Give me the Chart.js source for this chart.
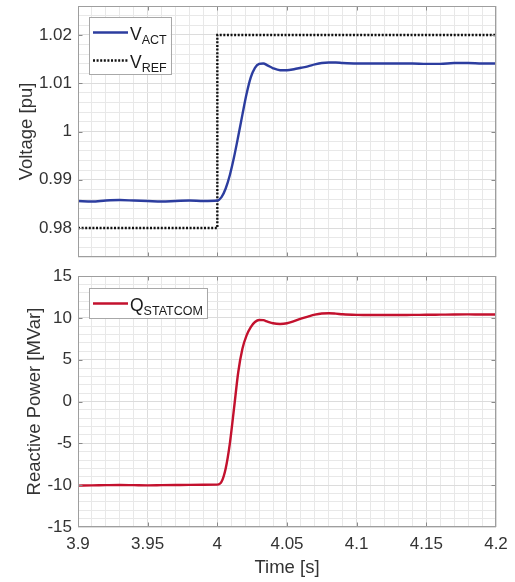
<!DOCTYPE html>
<html><head><meta charset="utf-8">
<script src="https://cdn.jsdelivr.net/npm/chart.js@4.4.1/dist/chart.umd.min.js"></script>
<style>
html,body{margin:0;padding:0;background:#fff;}
#c1{position:absolute;left:0;top:0;}
#c2{position:absolute;left:0;top:266px;}
</style></head><body>
<canvas id="c1" width="515" height="266"></canvas>
<canvas id="c2" width="515" height="316"></canvas>
<script>
// ---- data ----
const time = [3.90,3.91,3.92,3.93,3.94,3.95,3.96,3.97,3.98,3.99,
  4.000,
  4.003,4.006,4.009,4.012,4.015,4.018,4.021,4.024,4.027,4.030,4.033,4.036,
  4.040,4.045,4.050,4.055,4.060,4.065,4.070,4.075,4.080,4.085,4.090,
  4.10,4.11,4.12,4.13,4.14,4.15,4.16,4.17,4.18,4.19,4.20];
const vAct = [0.9856,0.9855,0.9857,0.9858,0.9857,0.9856,0.9855,0.9856,0.9857,0.9856,
  0.9857,
  0.9864,0.9882,0.9910,0.9947,0.9990,1.0035,1.0078,1.0112,1.0132,1.0140,1.0141,1.0137,
  1.0131,1.0127,1.0127,1.0129,1.0132,1.0135,1.0139,1.0142,1.0143,1.0143,1.0142,
  1.0141,1.0141,1.0141,1.0141,1.0141,1.0140,1.0140,1.0142,1.0142,1.0141,1.0141];
const qStatcom = [-10.05,-10.03,-10.00,-9.98,-10.00,-10.02,-10.00,-9.98,-9.96,-9.95,
  -9.94,
  -9.6,-8.0,-5.0,-0.8,3.5,6.3,7.9,8.9,9.5,9.75,9.72,9.55,
  9.35,9.27,9.35,9.6,9.9,10.15,10.38,10.52,10.55,10.5,10.42,
  10.35,10.33,10.33,10.33,10.35,10.36,10.38,10.4,10.41,10.4,10.4];
const refTime = [3.9, 4.0, 4.0, 4.2];
const vRef = [0.98, 0.98, 1.02, 1.02];

const xTickValues = [3.9, 3.95, 4, 4.05, 4.1, 4.15, 4.2];
const xTickLabels = ['3.9','3.95','4','4.05','4.1','4.15','4.2'];
const vTickValues = [0.98, 0.99, 1, 1.01, 1.02];
const vTickLabels = ['0.98','0.99','1','1.01','1.02'];
const qTickValues = [-15,-10,-5,0,5,10,15];
const qTickLabels = ['-15','-10','-5','0','5','10','15'];

// ---- styling ----
const FONT = "'Liberation Sans', Arial, Helvetica, sans-serif";
const BLUE = '#2c3d9f';
const RED = '#c3112e';
const GRID_MAJOR = '#dcdcdc';
const GRID_MINOR = '#e8e8e8';
const FRAME = '#9e9e9e';
const TEXT = '#333333';

function pts(xs, ys){ return xs.map((x,i)=>({x:x, y:ys[i]})); }
function findLabel(v, vals, labs){
  for (let i=0;i<vals.length;i++) if (Math.abs(v-vals[i])<1e-9) return labs[i];
  return '';
}
function isMajor(v, vals){ return findLabel(v, vals, vals.map(()=>'m')) !== ''; }

const framePlugin = {
  id: 'frame',
  afterDraw(chart, args, opts){
    const {ctx, chartArea:a, scales} = chart;
    ctx.save();
    // inward ticks
    ctx.strokeStyle = '#8a8a8a'; ctx.lineWidth = 1;
    const tl = 4.5;
    ctx.beginPath();
    for (const v of opts.xMajor){
      const px = Math.round(scales.x.getPixelForValue(v)) + 0.5;
      if (px <= a.left+1 || px >= a.right-1) continue;
      ctx.moveTo(px, a.bottom); ctx.lineTo(px, a.bottom - tl);
      ctx.moveTo(px, a.top); ctx.lineTo(px, a.top + tl);
    }
    for (const v of opts.yMajor){
      const py = Math.round(scales.y.getPixelForValue(v)) + 0.5;
      if (py <= a.top+1 || py >= a.bottom-1) continue;
      ctx.moveTo(a.left, py); ctx.lineTo(a.left + tl, py);
      ctx.moveTo(a.right, py); ctx.lineTo(a.right - tl, py);
    }
    ctx.stroke();
    // frame
    ctx.strokeStyle = FRAME;
    ctx.strokeRect(a.left+0.5, a.top+0.5, a.right-a.left-1, a.bottom-a.top-1);
    // legend
    const ents = opts.legend;
    const mainFont = '17.5px ' + FONT, subFont = '12.5px ' + FONT;
    let maxW = 0;
    for (const e of ents){
      ctx.font = mainFont; const w1 = ctx.measureText(e.main).width;
      ctx.font = subFont; const w2 = ctx.measureText(e.sub).width;
      e._w1 = w1; maxW = Math.max(maxW, w1 + w2);
    }
    const bx = a.left + 11, by = a.top + opts.legendTop;
    const bw = 4 + 35 + 2 + maxW + 4;
    const bh = 30 + 27*(ents.length-1);
    ctx.fillStyle = '#ffffff';
    ctx.fillRect(bx, by, bw, bh);
    ctx.strokeStyle = '#a8a8a8'; ctx.lineWidth = 1;
    ctx.strokeRect(Math.round(bx)+0.5, Math.round(by)+0.5, Math.round(bw), Math.round(bh));
    ents.forEach((e, i) => {
      const ds = chart.data.datasets[e.ds];
      const ly = by + 15.5 + i*28;
      ctx.beginPath();
      ctx.strokeStyle = ds.borderColor; ctx.lineWidth = ds.borderWidth;
      ctx.setLineDash(ds.borderDash || []);
      ctx.moveTo(bx + 4, ly); ctx.lineTo(bx + 39, ly);
      ctx.stroke();
      ctx.setLineDash([]);
      ctx.fillStyle = '#1a1a1a';
      ctx.textBaseline = 'alphabetic'; ctx.textAlign = 'left';
      ctx.font = mainFont;
      ctx.fillText(e.main, bx + 41, ly + 7);
      ctx.font = subFont;
      ctx.fillText(e.sub, bx + 41 + e._w1, ly + 11);
    });
    ctx.restore();
  }
};

function xScale(showLabels){
  return {
    type: 'linear', min: 3.9, max: 4.2,
    ticks: {
      display: showLabels, stepSize: 0.01, autoSkip: false, maxRotation: 0, padding: 7,
      color: TEXT, font: {family: FONT, size: 17},
      callback: (v) => findLabel(v, xTickValues, xTickLabels)
    },
    grid: {
      drawTicks: false,
      color: (c) => isMajor(c.tick.value, xTickValues) ? GRID_MAJOR : GRID_MINOR
    },
    border: {display: false},
    title: showLabels ? {display: true, text: 'Time [s]', color: TEXT,
      font: {family: FONT, size: 18.5}, padding: {top: 0, bottom: 3}} : {display: false},
    afterFit: (s) => { s.height = showLabels ? 55 : 9; s.paddingLeft = 0; s.paddingRight = 0; }
  };
}

function yScale(min, max, step, vals, labs, title, titlePad){
  return {
    type: 'linear', min: min, max: max,
    ticks: {
      stepSize: step, autoSkip: false, padding: 6,
      color: TEXT, font: {family: FONT, size: 17},
      callback: (v) => findLabel(v, vals, labs)
    },
    grid: {
      drawTicks: false,
      color: (c) => isMajor(c.tick.value, vals) ? GRID_MAJOR : GRID_MINOR
    },
    border: {display: false},
    title: {display: true, text: title, color: TEXT,
      font: {family: FONT, size: 18.5}, padding: {top: titlePad, bottom: 0}},
    afterFit: (s) => { s.width = 78; s.paddingTop = 0; s.paddingBottom = 0; }
  };
}

const common = {
  responsive: false, animation: false, devicePixelRatio: 1,
  plugins: {legend: {display: false}, tooltip: {enabled: false}},
  elements: {point: {radius: 0}},
};

new Chart(document.getElementById('c1'), {
  type: 'line',
  data: {datasets: [
    {label: 'V_ACT', data: pts(time, vAct), borderColor: BLUE, borderWidth: 2.4,
     cubicInterpolationMode: 'monotone', fill: false},
    {label: 'V_REF', data: pts(refTime, vRef), borderColor: '#111111', borderWidth: 2.4,
     borderDash: [2, 1.6], tension: 0, fill: false}
  ]},
  options: Object.assign({}, common, {
    layout: {padding: {left: 0, right: 19, top: 6, bottom: 0}},
    scales: {
      x: xScale(false),
      y: yScale(0.974, 1.026, 0.002, vTickValues, vTickLabels, 'Voltage [pu]', 16)
    },
    plugins: Object.assign({}, common.plugins, {
      frame: {xMajor: xTickValues, yMajor: vTickValues, legendTop: 11,
        legend: [{ds: 0, main: 'V', sub: 'ACT'}, {ds: 1, main: 'V', sub: 'REF'}]}
    })
  }),
  plugins: [framePlugin]
});

new Chart(document.getElementById('c2'), {
  type: 'line',
  data: {datasets: [
    {label: 'Q_STATCOM', data: pts(time, qStatcom), borderColor: RED, borderWidth: 2.4,
     cubicInterpolationMode: 'monotone', fill: false}
  ]},
  options: Object.assign({}, common, {
    layout: {padding: {left: 0, right: 19, top: 10, bottom: 0}},
    scales: {
      x: xScale(true),
      y: yScale(-15, 15, 1, qTickValues, qTickLabels, 'Reactive Power [MVar]', 24)
    },
    plugins: Object.assign({}, common.plugins, {
      frame: {xMajor: xTickValues, yMajor: qTickValues, legendTop: 12,
        legend: [{ds: 0, main: 'Q', sub: 'STATCOM'}]}
    })
  }),
  plugins: [framePlugin]
});
</script>
</body></html>
